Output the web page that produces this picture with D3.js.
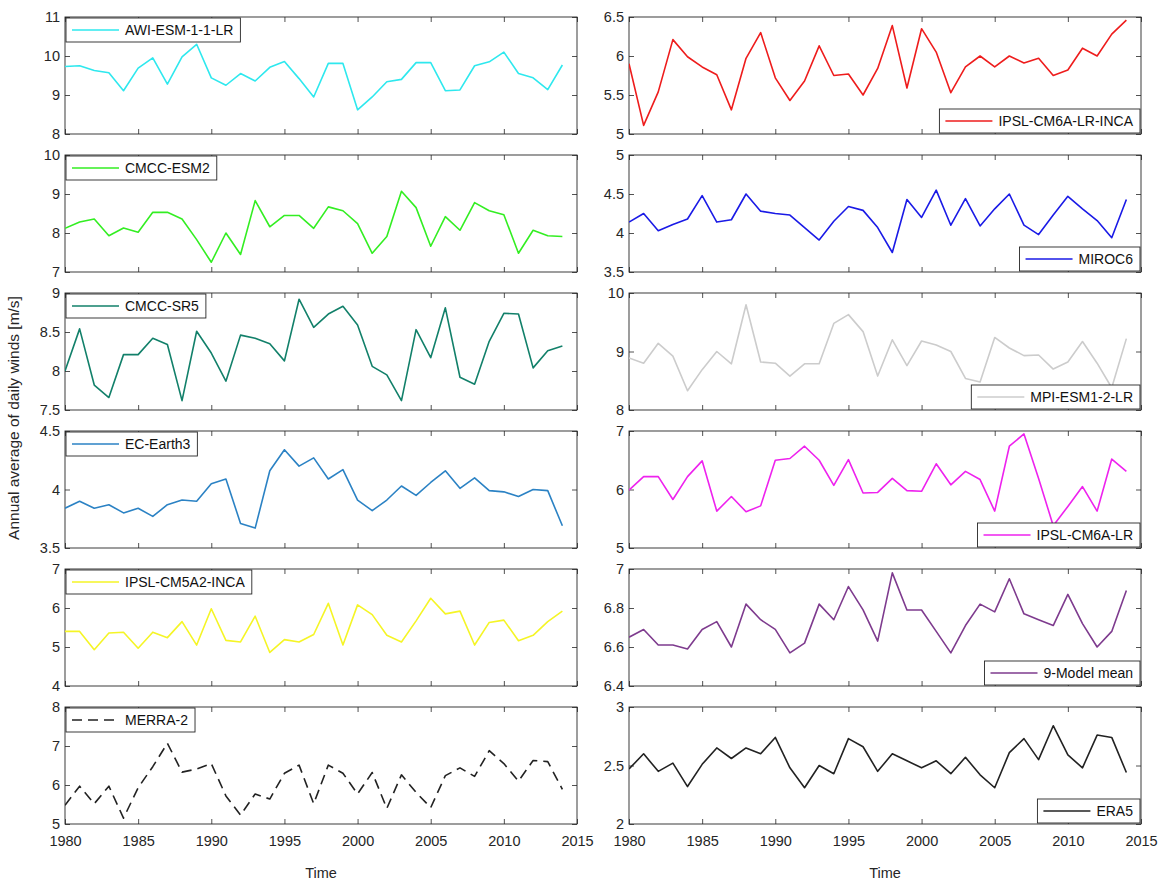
<!DOCTYPE html>
<html>
<head>
<meta charset="utf-8">
<script src="https://cdn.jsdelivr.net/npm/d3@7"></script>
<style>
  body { margin: 0; background: #fff; }
  svg { display: block; font-family: "Liberation Sans", Arial, sans-serif; }
</style>
</head>
<body>
<div id="chart"></div>
<script>
// Years on the x axis
const years = d3.range(1980, 2015);
const xTicks = [1980, 1985, 1990, 1995, 2000, 2005, 2010, 2015];

// Annual mean wind speed [m/s] per model / reanalysis
const awi = [9.73, 9.75, 9.63, 9.57, 9.11, 9.69, 9.95, 9.28, 9.98, 10.3, 9.44, 9.25, 9.55, 9.36, 9.71, 9.86, 9.42, 8.95, 9.81, 9.81, 8.62, 8.95, 9.34, 9.4, 9.83, 9.83, 9.11, 9.13, 9.75, 9.85, 10.1, 9.55, 9.44, 9.14, 9.77];
const cmccEsm2 = [8.12, 8.28, 8.36, 7.93, 8.13, 8.02, 8.53, 8.53, 8.36, 7.83, 7.25, 8.0, 7.45, 8.83, 8.16, 8.45, 8.45, 8.12, 8.67, 8.57, 8.24, 7.48, 7.91, 9.07, 8.65, 7.66, 8.42, 8.07, 8.78, 8.57, 8.47, 7.48, 8.07, 7.93, 7.91];
const cmccSr5 = [8.0, 8.54, 7.82, 7.66, 8.21, 8.21, 8.42, 8.34, 7.62, 8.51, 8.23, 7.87, 8.46, 8.42, 8.35, 8.13, 8.92, 8.56, 8.73, 8.83, 8.59, 8.06, 7.95, 7.62, 8.53, 8.17, 8.81, 7.92, 7.83, 8.38, 8.74, 8.73, 8.04, 8.26, 8.32];
const ecEarth3 = [3.84, 3.9, 3.84, 3.87, 3.8, 3.84, 3.77, 3.87, 3.91, 3.9, 4.05, 4.09, 3.71, 3.67, 4.16, 4.34, 4.2, 4.27, 4.09, 4.17, 3.91, 3.82, 3.91, 4.03, 3.95, 4.06, 4.16, 4.01, 4.1, 3.99, 3.98, 3.94, 4.0, 3.99, 3.69];
const ipslCm5a2 = [5.4, 5.4, 4.93, 5.36, 5.38, 4.97, 5.38, 5.24, 5.65, 5.05, 5.98, 5.17, 5.13, 5.79, 4.86, 5.19, 5.13, 5.32, 6.12, 5.05, 6.08, 5.83, 5.3, 5.13, 5.67, 6.25, 5.85, 5.92, 5.05, 5.63, 5.69, 5.16, 5.3, 5.65, 5.92];
const merra2 = [5.48, 5.97, 5.52, 5.97, 5.15, 5.93, 6.47, 7.07, 6.33, 6.41, 6.55, 5.72, 5.23, 5.77, 5.64, 6.3, 6.51, 5.52, 6.51, 6.3, 5.77, 6.32, 5.4, 6.26, 5.81, 5.42, 6.24, 6.44, 6.22, 6.88, 6.55, 6.1, 6.63, 6.6, 5.89];
const ipslCm6aInca = [5.9, 5.11, 5.54, 6.21, 5.99, 5.86, 5.76, 5.31, 5.97, 6.3, 5.72, 5.43, 5.68, 6.13, 5.75, 5.77, 5.5, 5.84, 6.39, 5.59, 6.35, 6.05, 5.53, 5.86, 6.0, 5.86, 6.0, 5.91, 5.97, 5.75, 5.82, 6.1, 6.0, 6.28, 6.46];
const miroc6 = [4.14, 4.25, 4.03, 4.11, 4.18, 4.48, 4.14, 4.17, 4.5, 4.28, 4.25, 4.23, 4.07, 3.91, 4.15, 4.34, 4.29, 4.07, 3.75, 4.43, 4.2, 4.55, 4.1, 4.44, 4.09, 4.31, 4.5, 4.1, 3.98, 4.23, 4.47, 4.31, 4.16, 3.94, 4.43];
const mpiEsm = [8.89, 8.8, 9.14, 8.92, 8.33, 8.69, 9.0, 8.79, 9.8, 8.82, 8.8, 8.58, 8.79, 8.79, 9.48, 9.63, 9.34, 8.58, 9.2, 8.76, 9.18, 9.11, 9.0, 8.54, 8.48, 9.24, 9.06, 8.93, 8.94, 8.7, 8.82, 9.17, 8.8, 8.38, 9.22];
const ipslCm6a = [5.99, 6.22, 6.22, 5.83, 6.22, 6.49, 5.63, 5.88, 5.62, 5.72, 6.5, 6.53, 6.74, 6.5, 6.07, 6.51, 5.94, 5.95, 6.19, 5.98, 5.97, 6.44, 6.08, 6.31, 6.17, 5.63, 6.74, 6.95, 6.19, 5.38, 5.71, 6.05, 5.63, 6.52, 6.31];
const modelMean = [6.65, 6.69, 6.61, 6.61, 6.59, 6.69, 6.73, 6.6, 6.82, 6.74, 6.69, 6.57, 6.62, 6.82, 6.74, 6.91, 6.79, 6.63, 6.98, 6.79, 6.79, 6.68, 6.57, 6.71, 6.82, 6.78, 6.95, 6.77, 6.74, 6.71, 6.87, 6.72, 6.6, 6.68, 6.89];
const era5 = [2.47, 2.6, 2.45, 2.52, 2.32, 2.51, 2.65, 2.56, 2.65, 2.6, 2.74, 2.48, 2.31, 2.5, 2.43, 2.73, 2.66, 2.45, 2.6, 2.54, 2.48, 2.54, 2.43, 2.57, 2.42, 2.31, 2.61, 2.73, 2.55, 2.84, 2.59, 2.48, 2.76, 2.74, 2.44];

// Legend names
const leftNames = ["AWI-ESM-1-1-LR", "CMCC-ESM2", "CMCC-SR5", "EC-Earth3", "IPSL-CM5A2-INCA", "MERRA-2"];
const rightNames = ["IPSL-CM6A-LR-INCA", "MIROC6", "MPI-ESM1-2-LR", "IPSL-CM6A-LR", "9-Model mean", "ERA5"];
const leftValues = [awi, cmccEsm2, cmccSr5, ecEarth3, ipslCm5a2, merra2];
const rightValues = [ipslCm6aInca, miroc6, mpiEsm, ipslCm6a, modelMean, era5];

// Y tick labels per panel
const leftTicks = [[8, 9, 10, 11], [7, 8, 9, 10], [7.5, 8, 8.5, 9], [3.5, 4, 4.5], [4, 5, 6, 7], [5, 6, 7, 8]];
const rightTicks = [[5, 5.5, 6, 6.5], [3.5, 4, 4.5, 5], [8, 9, 10], [5, 6, 7], [6.4, 6.6, 6.8, 7], [2, 2.5, 3]];

// Line colours
const leftColors = ["#2ee8ee", "#33ee22", "#12806a", "#2b82c4", "#f5f526", "#222222"];
const rightColors = ["#ee1c1c", "#1a1ae6", "#cccccc", "#ee22ee", "#7e3b8e", "#222222"];

// Layout
const width = 1162;
const height = 882;
const colX = [[65, 577], [629, 1141]];
const rowTop0 = 17;
const rowStep = 138;
const panelH = 117;
const axisColor = "#262626";

const svg = d3.select("#chart")
    .append("svg")
    .attr("width", width)
    .attr("height", height);

function drawPanel(col, row, name, values, ticks, color) {
    const [x0, x1] = colX[col];
    const top = rowTop0 + row * rowStep;
    const bottom = top + panelH;
    const isBottom = row === 5;

    const x = d3.scaleLinear().domain([1980, 2015]).range([x0, x1]);
    const y = d3.scaleLinear().domain(d3.extent(ticks)).range([bottom, top]);

    const g = svg.append("g");
    const clipId = `clip-${col}-${row}`;
    g.append("clipPath").attr("id", clipId)
        .append("rect")
        .attr("x", x0).attr("y", top)
        .attr("width", x1 - x0).attr("height", panelH);

    // Axes with inward ticks (box style)
    const styleAxis = sel => {
        sel.select(".domain").remove();
        sel.selectAll("line").attr("stroke", axisColor).attr("stroke-width", 0.8);
        sel.selectAll("text").attr("fill", axisColor).style("font-size", "14.5px");
    };

    g.append("g")
        .attr("transform", `translate(${x0},0)`)
        .call(d3.axisLeft(y).tickValues(ticks).tickSize(-5).tickPadding(5).tickFormat(d => d))
        .call(styleAxis);
    g.append("g")
        .attr("transform", `translate(${x1},0)`)
        .call(d3.axisRight(y).tickValues(ticks).tickSize(-5).tickFormat(""))
        .call(styleAxis);
    g.append("g")
        .attr("transform", `translate(0,${bottom})`)
        .call(d3.axisBottom(x).tickValues(xTicks).tickSize(-5).tickPadding(12)
            .tickFormat(isBottom ? d3.format("d") : ""))
        .call(styleAxis);
    g.append("g")
        .attr("transform", `translate(0,${top})`)
        .call(d3.axisTop(x).tickValues(xTicks).tickSize(-5).tickFormat(""))
        .call(styleAxis);

    // Frame
    g.append("rect")
        .attr("x", x0).attr("y", top)
        .attr("width", x1 - x0).attr("height", panelH)
        .attr("fill", "none")
        .attr("stroke", axisColor)
        .attr("stroke-width", 0.9);

    // Series line
    const line = d3.line()
        .x((d, i) => x(years[i]))
        .y(d => y(d));
    g.append("path")
        .datum(values)
        .attr("clip-path", `url(#${clipId})`)
        .attr("fill", "none")
        .attr("stroke", color)
        .attr("stroke-width", 1.6)
        .attr("stroke-linejoin", "round")
        .attr("stroke-dasharray", name === "MERRA-2" ? "10,6" : null)
        .attr("d", line);

    // Legend box
    const legend = g.append("g");
    const txt = legend.append("text")
        .text(name)
        .attr("fill", "#111")
        .style("font-size", "14px");
    const tw = txt.node().getComputedTextLength();
    const boxW = tw + 66;
    const boxH = 24;
    const bx = col === 0 ? x0 + 1 : x1 - boxW - 1;
    const by = col === 0 ? top + 1 : bottom - boxH - 1;
    legend.insert("rect", "text")
        .attr("x", bx).attr("y", by)
        .attr("width", boxW).attr("height", boxH)
        .attr("fill", "#fff")
        .attr("stroke", axisColor)
        .attr("stroke-width", 0.9);
    legend.insert("line", "text")
        .attr("x1", bx + 6).attr("x2", bx + 53)
        .attr("y1", by + boxH / 2).attr("y2", by + boxH / 2)
        .attr("stroke", color)
        .attr("stroke-width", 1.6)
        .attr("stroke-dasharray", name === "MERRA-2" ? "10,6" : null);
    txt.attr("x", bx + 59).attr("y", by + boxH / 2 + 5);

    if (isBottom) {
        g.append("text")
            .attr("x", (x0 + x1) / 2)
            .attr("y", 878)
            .attr("text-anchor", "middle")
            .attr("fill", axisColor)
            .style("font-size", "14.5px")
            .text("Time");
    }
}

leftNames.forEach((n, i) => drawPanel(0, i, n, leftValues[i], leftTicks[i], leftColors[i]));
rightNames.forEach((n, i) => drawPanel(1, i, n, rightValues[i], rightTicks[i], rightColors[i]));

// Shared y label
svg.append("text")
    .attr("transform", `translate(19,${418}) rotate(-90)`)
    .attr("text-anchor", "middle")
    .attr("fill", axisColor)
    .style("font-size", "15.5px")
    .text("Annual average of daily winds [m/s]");
</script>
</body>
</html>
